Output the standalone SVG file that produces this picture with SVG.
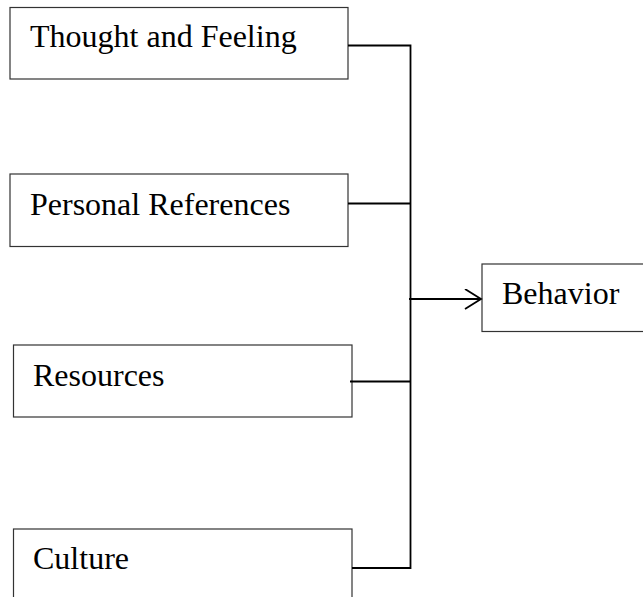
<svg xmlns="http://www.w3.org/2000/svg" width="643" height="597" viewBox="0 0 643 597">
<style>
.box{fill:#fff;stroke:#333;stroke-width:1.2}
.lbl{font-family:"Liberation Serif","Times New Roman",serif;font-size:32px;fill:#000}
.con{fill:none;stroke:#000;stroke-width:1.8}
</style>
<defs>
<marker id="arr" markerWidth="20" markerHeight="24" refX="17" refY="10" orient="auto" markerUnits="userSpaceOnUse">
<path d="M1,0 L17,10 L1,20" fill="none" stroke="#000" stroke-width="1.8"/>
</marker>
</defs>
<rect width="643" height="597" fill="#fff"/>
<g id="thought">
<rect class="box" x="10" y="7.5" width="338" height="71.5"/>
<text class="lbl" x="30" y="47">Thought and Feeling</text>
</g>
<g id="personal">
<rect class="box" x="10" y="174" width="338" height="72.5"/>
<text class="lbl" x="30" y="215">Personal References</text>
</g>
<g id="resources">
<rect class="box" x="13.5" y="345" width="338.5" height="72"/>
<text class="lbl" x="33" y="386">Resources</text>
</g>
<g id="culture">
<rect class="box" x="13.5" y="529" width="338.5" height="80"/>
<text class="lbl" x="33" y="569">Culture</text>
</g>
<g id="behavior">
<rect class="box" x="482" y="264" width="180" height="67.5"/>
<text class="lbl" x="502" y="304">Behavior</text>
</g>
<g id="connectors">
<path class="con" d="M348,45.5 H410.5 V568 H352"/>
<path class="con" d="M348,203.5 H410.5"/>
<path class="con" d="M350,381.5 H410.5"/>
<path class="con" d="M409,299 H481" marker-end="url(#arr)"/>
</g>
</svg>
